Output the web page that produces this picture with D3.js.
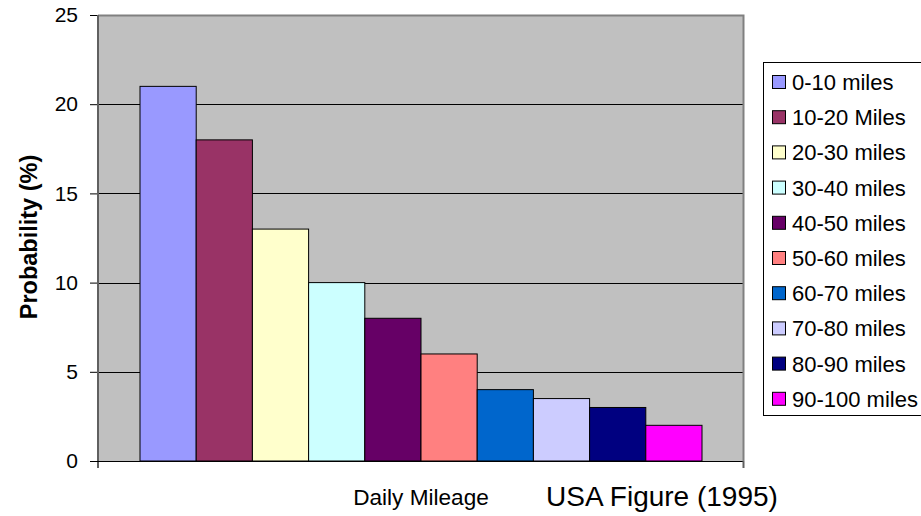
<!DOCTYPE html>
<html>
<head>
<meta charset="utf-8">
<script src="https://cdn.jsdelivr.net/npm/d3@7"></script>
<style>
  html, body { margin: 0; padding: 0; background: #fff; }
  svg { display: block; font-family: "Liberation Sans", Arial, sans-serif; }
</style>
</head>
<body>
<svg id="chart" width="921" height="516"></svg>
<script>
// Daily mileage distribution (one category, ten series)
const seriesNames = ["0-10 miles", "10-20 Miles", "20-30 miles", "30-40 miles", "40-50 miles",
                     "50-60 miles", "60-70 miles", "70-80 miles", "80-90 miles", "90-100 miles"];
const probabilities = [21, 18, 13, 10, 8, 6, 4, 3.5, 3, 2];
const seriesColors = ["#9999FF", "#993366", "#FFFFCC", "#CCFFFF", "#660066",
                      "#FF8080", "#0066CC", "#CCCCFF", "#000080", "#FF00FF"];
const yTicks = [0, 5, 10, 15, 20, 25];

const FONT = "'Liberation Sans', Arial, sans-serif";
const svg = d3.select("#chart");
const plot = { left: 98, right: 744, top: 15, bottom: 461 };

const y = d3.scaleLinear().domain([0, 25]).range([plot.bottom, plot.top]);
// the bar group sits centred in the plot with equal gaps either side
const x = d3.scaleBand().domain(seriesNames)
  .range([plot.left + 42, plot.right - 42]).paddingInner(0).paddingOuter(0);

// plot background
svg.append("rect")
  .attr("x", plot.left).attr("y", plot.top)
  .attr("width", plot.right - plot.left).attr("height", plot.bottom - plot.top)
  .attr("fill", "#C0C0C0");

// horizontal gridlines
svg.append("g").selectAll("line")
  .data(yTicks.filter(d => d > 0 && d < 25))
  .join("line")
  .attr("x1", plot.left).attr("x2", plot.right)
  .attr("y1", d => Math.round(y(d)) + 0.5).attr("y2", d => Math.round(y(d)) + 0.5)
  .attr("stroke", "#000").attr("stroke-width", 1);

// plot frame (top and right edges)
svg.append("path")
  .attr("d", `M${plot.left},${plot.top + 0.5}H${plot.right - 0.5}V${plot.bottom}`)
  .attr("fill", "none").attr("stroke", "#808080").attr("stroke-width", 2);

// bars
svg.append("g").selectAll("rect")
  .data(probabilities)
  .join("rect")
  .attr("x", (d, i) => x(seriesNames[i]))
  .attr("y", d => y(d))
  .attr("width", x.bandwidth())
  .attr("height", d => y(0) - y(d))
  .attr("fill", (d, i) => seriesColors[i])
  .attr("stroke", "#000").attr("stroke-width", 1);

// y axis
const yAxis = d3.axisLeft(y).tickValues(yTicks).tickSize(8).tickPadding(12);
const gy = svg.append("g").attr("transform", `translate(${plot.left},0)`).call(yAxis);
gy.select(".domain").remove();
gy.selectAll(".tick line").attr("stroke", "#000");
gy.selectAll(".tick text").attr("font-size", 21).attr("fill", "#000")
  .attr("font-family", FONT);
svg.append("line")
  .attr("x1", plot.left).attr("x2", plot.left)
  .attr("y1", plot.top).attr("y2", plot.bottom + 7)
  .attr("stroke", "#606060").attr("stroke-width", 2);

// x axis baseline with end ticks
svg.append("line")
  .attr("x1", plot.left - 8).attr("x2", plot.right)
  .attr("y1", plot.bottom + 0.5).attr("y2", plot.bottom + 0.5)
  .attr("stroke", "#000").attr("stroke-width", 1);
svg.append("line")
  .attr("x1", plot.right - 0.5).attr("x2", plot.right - 0.5)
  .attr("y1", plot.bottom).attr("y2", plot.bottom + 7)
  .attr("stroke", "#606060").attr("stroke-width", 2);

// axis titles
svg.append("text")
  .attr("transform", `translate(37,237) rotate(-90)`)
  .attr("text-anchor", "middle")
  .attr("font-size", 23.5).attr("font-weight", "bold")
  .text("Probability (%)");

svg.append("text")
  .attr("x", 421).attr("y", 505)
  .attr("text-anchor", "middle").attr("font-size", 22.6)
  .text("Daily Mileage");

svg.append("text")
  .attr("x", 546).attr("y", 506)
  .attr("font-size", 28)
  .text("USA Figure (1995)");

// legend
const legend = svg.append("g").attr("transform", "translate(763,62)");
legend.append("rect")
  .attr("x", 0.5).attr("y", 0.5).attr("width", 200).attr("height", 353)
  .attr("fill", "#fff").attr("stroke", "#000").attr("stroke-width", 1);
const items = legend.selectAll("g.item")
  .data(seriesNames)
  .join("g").attr("class", "item")
  .attr("transform", (d, i) => `translate(0,${20 + i * 35.2})`);
items.append("rect")
  .attr("x", 9.5).attr("y", -6.5).attr("width", 13).attr("height", 13)
  .attr("fill", (d, i) => seriesColors[i])
  .attr("stroke", "#000").attr("stroke-width", 1);
items.append("text")
  .attr("x", 29).attr("y", 8)
  .attr("font-size", 22)
  .text(d => d);
</script>
</body>
</html>
